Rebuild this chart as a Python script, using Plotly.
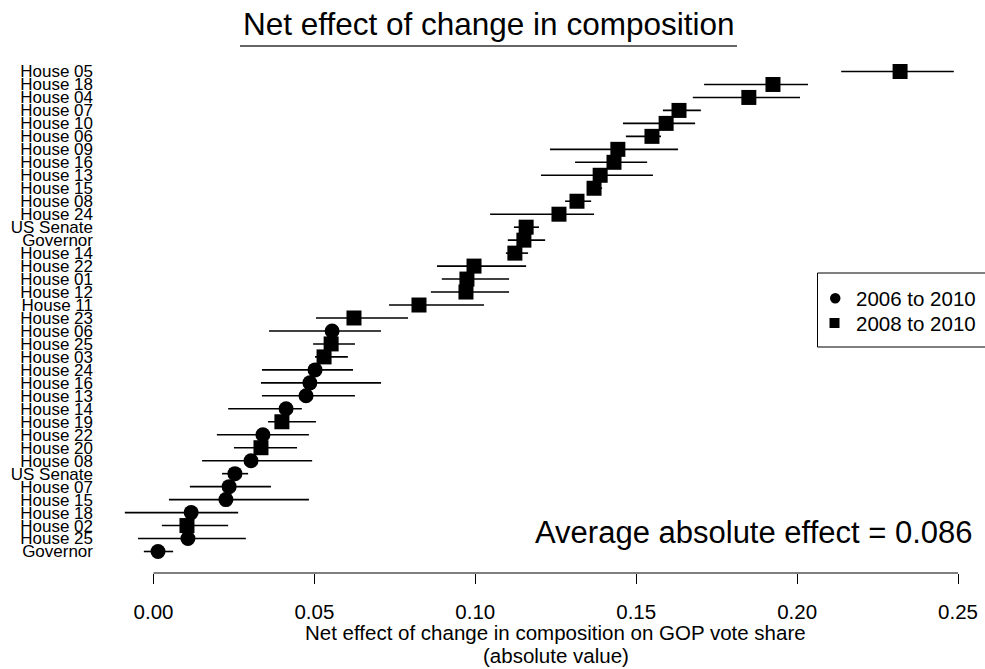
import numpy as np
import plotly.graph_objects as go

# Races, top to bottom, with the period each estimate belongs to
races = [
    "House 05", "House 18", "House 04", "House 07", "House 10", "House 06",
    "House 09", "House 16", "House 13", "House 15", "House 08", "House 24",
    "US Senate", "Governor", "House 14", "House 22", "House 01", "House 12",
    "House 11", "House 23", "House 06", "House 25", "House 03", "House 24",
    "House 16", "House 13", "House 14", "House 19", "House 22", "House 20",
    "House 08", "US Senate", "House 07", "House 15", "House 18", "House 02",
    "House 25", "Governor",
]
period = [
    "2008 to 2010", "2008 to 2010", "2008 to 2010", "2008 to 2010", "2008 to 2010",
    "2008 to 2010", "2008 to 2010", "2008 to 2010", "2008 to 2010", "2008 to 2010",
    "2008 to 2010", "2008 to 2010", "2008 to 2010", "2008 to 2010", "2008 to 2010",
    "2008 to 2010", "2008 to 2010", "2008 to 2010", "2008 to 2010", "2008 to 2010",
    "2006 to 2010", "2008 to 2010", "2008 to 2010", "2006 to 2010", "2006 to 2010",
    "2006 to 2010", "2006 to 2010", "2008 to 2010", "2006 to 2010", "2008 to 2010",
    "2006 to 2010", "2006 to 2010", "2006 to 2010", "2006 to 2010", "2006 to 2010",
    "2008 to 2010", "2006 to 2010", "2006 to 2010",
]
effect = [
    0.2320, 0.1925, 0.1850, 0.1633, 0.1593, 0.1549, 0.1443, 0.1431, 0.1388, 0.1369,
    0.1316, 0.1260, 0.1158, 0.1151, 0.1123, 0.0996, 0.0974, 0.0971, 0.0825, 0.0623,
    0.0555, 0.0552, 0.0530, 0.0502, 0.0486, 0.0474, 0.0412, 0.0399, 0.0340, 0.0334,
    0.0303, 0.0253, 0.0235, 0.0225, 0.0117, 0.0104, 0.0107, 0.0014,
]
ci_low = [
    0.2137, 0.1711, 0.1676, 0.1583, 0.1459, 0.1468, 0.1232, 0.1310, 0.1204, 0.1347,
    0.1279, 0.1046, 0.1120, 0.1101, 0.1095, 0.0881, 0.0896, 0.0862, 0.0732, 0.0505,
    0.0359, 0.0496, 0.0502, 0.0337, 0.0334, 0.0337, 0.0232, 0.0356, 0.0197, 0.0250,
    0.0151, 0.0213, 0.0113, 0.0048, -0.0089, 0.0026, -0.0048, -0.0030,
]
ci_high = [
    0.2487, 0.2034, 0.2009, 0.1701, 0.1683, 0.1577, 0.1630, 0.1534, 0.1552, 0.1394,
    0.1360, 0.1369, 0.1198, 0.1217, 0.1164, 0.1158, 0.1105, 0.1105, 0.1027, 0.0791,
    0.0707, 0.0626, 0.0604, 0.0620, 0.0707, 0.0626, 0.0461, 0.0505, 0.0483, 0.0446,
    0.0493, 0.0294, 0.0365, 0.0483, 0.0263, 0.0232, 0.0287, 0.0061,
]
x_ticks = [0.00, 0.05, 0.10, 0.15, 0.20, 0.25]
x_tick_labels = ["0.00", "0.05", "0.10", "0.15", "0.20", "0.25"]
symbols = {"2006 to 2010": "circle", "2008 to 2010": "square"}

FONT = "Liberation Sans, Arial, Helvetica, sans-serif"
W, H = 985, 669
L, R, T, B = 100, 0, 60, 96          # plot area: x 100..985, y 60..573
PW, PH = W - L - R, H - T - B

# x scale: 0 sits at px 153.5, 0.25 at px 958
x0_px, x25_px = 153.5, 958.0
ppu = (x25_px - x0_px) / 0.25
x_range = [-(x0_px - L) / ppu, 0.25 + (W - R - x25_px) / ppu]

# rows: first at px 71.5, last at px 551.5
n = len(races)
row_y = [n - 1 - i for i in range(n)]
first_px, last_px = 71.5, 551.5
rpu = (last_px - first_px) / (n - 1)
y_range = [-(T + PH - last_px) / rpu, (n - 1) + (first_px - T) / rpu]


def xp(px):
    return (px - L) / PW


def yp(py):
    return (T + PH - py) / PH


fig = go.Figure()
for name in ["2006 to 2010", "2008 to 2010"]:
    idx = [i for i, p in enumerate(period) if p == name]
    fig.add_trace(go.Scatter(
        x=[effect[i] for i in idx],
        y=[row_y[i] for i in idx],
        mode="markers",
        name=name,
        showlegend=False,
        marker=dict(symbol=symbols[name], size=15, color="black"),
        error_x=dict(
            type="data", symmetric=False,
            array=[ci_high[i] - effect[i] for i in idx],
            arrayminus=[effect[i] - ci_low[i] for i in idx],
            color="black", thickness=1.6, width=0,
        ),
    ))

avg = float(np.mean(effect))

shapes = [
    # x axis line spanning the labelled range
    dict(type="line", xref="x", yref="paper", x0=x_ticks[0], x1=x_ticks[-1],
         y0=0, y1=0, line=dict(color="black", width=1)),
    # title underline
    dict(type="line", xref="paper", yref="paper", x0=xp(240), x1=xp(737),
         y0=yp(46), y1=yp(46), line=dict(color="#333333", width=1.6)),
    # legend box
    dict(type="rect", xref="paper", yref="paper", x0=xp(817.5), x1=xp(990),
         y0=yp(347), y1=yp(273), line=dict(color="black", width=1)),
    # legend keys
    dict(type="circle", xref="paper", yref="paper", x0=xp(830), x1=xp(840.5),
         y0=yp(303.5), y1=yp(293), fillcolor="black", line=dict(width=0)),
    dict(type="rect", xref="paper", yref="paper", x0=xp(829.5), x1=xp(839.5),
         y0=yp(328), y1=yp(318), fillcolor="black", line=dict(width=0)),
]

annotations = [
    dict(text="Net effect of change in composition", xref="paper", yref="paper",
         x=xp(488.5), y=yp(24), xanchor="center", yanchor="middle", showarrow=False,
         font=dict(family=FONT, size=31.5, color="black")),
    dict(text=f"Average absolute effect = {avg:.3f}", xref="paper", yref="paper",
         x=xp(754), y=yp(532.5), xanchor="center", yanchor="middle", showarrow=False,
         font=dict(family=FONT, size=31, color="black")),
    dict(text="Net effect of change in composition on GOP vote share", xref="x",
         yref="paper", x=0.125, y=yp(632.5), xanchor="center", yanchor="middle",
         showarrow=False, font=dict(family=FONT, size=20.5, color="black")),
    dict(text="(absolute value)", xref="x", yref="paper", x=0.125, y=yp(655),
         xanchor="center", yanchor="middle", showarrow=False,
         font=dict(family=FONT, size=20.5, color="black")),
    dict(text="2006 to 2010", xref="paper", yref="paper", x=xp(854), y=yp(298.5),
         xanchor="left", yanchor="middle", showarrow=False,
         font=dict(family=FONT, size=20.5, color="black")),
    dict(text="2008 to 2010", xref="paper", yref="paper", x=xp(854), y=yp(323),
         xanchor="left", yanchor="middle", showarrow=False,
         font=dict(family=FONT, size=20.5, color="black")),
]

fig.update_layout(
    width=W, height=H,
    margin=dict(l=L, r=R, t=T, b=B, pad=0),
    paper_bgcolor="white", plot_bgcolor="white",
    showlegend=False,
    font=dict(family=FONT, color="black"),
    xaxis=dict(
        range=x_range, showgrid=False, zeroline=False, showline=False,
        tickmode="array", tickvals=x_ticks, ticktext=x_tick_labels,
        ticks="outside", ticklen=10, tickwidth=1, tickcolor="black",
        tickfont=dict(family=FONT, size=20.5, color="black"),
        ticklabelstandoff=10,
    ),
    yaxis=dict(
        range=y_range, showgrid=False, zeroline=False, showline=False,
        tickmode="array", tickvals=row_y, ticktext=races, ticks="",
        tickfont=dict(family=FONT, size=17, color="black"),
        ticklabelstandoff=6,
    ),
    shapes=shapes,
    annotations=annotations,
)

fig.write_html("out.html")
